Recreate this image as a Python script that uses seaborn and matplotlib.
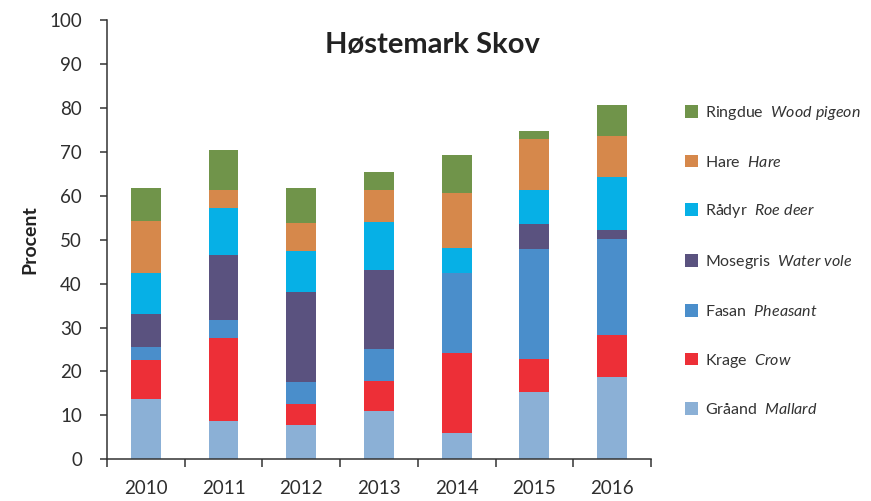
import numpy as np
import pandas as pd
import seaborn as sns
import matplotlib.pyplot as plt

# Data (procent af fund)
years = [2010, 2011, 2012, 2013, 2014, 2015, 2016]
navne_dk = ["Ringdue", "Hare", "Rådyr", "Mosegris", "Fasan", "Krage", "Gråand"]
navne_en = ["Wood pigeon", "Hare", "Roe deer", "Water vole", "Pheasant", "Crow", "Mallard"]

ringdue = [7.6, 8.9, 8.0, 4.1, 8.8, 2.0, 7.2]
hare = [11.8, 4.2, 6.4, 7.4, 12.3, 11.4, 9.3]
raadyr = [9.4, 10.6, 9.3, 11.0, 5.8, 7.8, 12.1]
mosegris = [7.5, 14.8, 20.6, 18.0, 0.0, 5.7, 2.0]
fasan = [2.9, 4.3, 5.0, 7.2, 18.2, 25.0, 21.7]
krage = [8.8, 18.8, 4.7, 6.8, 18.2, 7.6, 9.6]
graaand = [13.8, 8.7, 7.8, 11.0, 6.0, 15.3, 18.8]

farver = ["#70944a", "#d6884b", "#06b0e6", "#5a527f", "#4a8ecb", "#ed2f37", "#8bb0d6"]

sns.set_style("ticks")
plt.rcParams['font.family'] = ['Lato', 'DejaVu Sans']
plt.rcParams['mathtext.fontset'] = 'custom'
plt.rcParams['mathtext.rm'] = 'Lato'
plt.rcParams['mathtext.it'] = 'Lato:italic'

# labels med engelsk navn i kursiv
labels = [dk + "  $\\mathit{" + en.replace(" ", "\\ ") + "}$" for dk, en in zip(navne_dk, navne_en)]
serier = [ringdue, hare, raadyr, mosegris, fasan, krage, graaand]

rows = []
for lab, vals in zip(labels, serier):
    for y, v in zip(years, vals):
        rows.append({"year": y, "art": lab, "procent": v})
df = pd.DataFrame(rows)

fig = plt.figure(figsize=(8.71, 5.01), dpi=100)
ax = fig.add_axes([0.1228, 0.0832, 0.6246, 0.877])

sns.histplot(data=df, x="year", weights="procent", hue="art", hue_order=labels,
             palette=farver, multiple="stack", discrete=True, shrink=0.385,
             alpha=1, linewidth=0, ax=ax)

ax.set_xlim(2009.5, 2016.5)
ax.set_ylim(0, 100)
ax.set_yticks(np.arange(0, 101, 10))
ax.set_xticks(np.arange(2009.5, 2017, 1))
ax.set_xticklabels([])
ax.set_xticks(years, minor=True)
ax.set_xticklabels([str(y) for y in years], minor=True)
ax.tick_params(axis='x', which='major', direction='out', length=6, width=1.1, color='#333333')
ax.tick_params(axis='x', which='minor', length=0, pad=15, labelsize=13.5, labelcolor='#2e2e2e')
ax.tick_params(axis='y', direction='out', length=5, width=1.1, color='#333333',
               pad=13, labelsize=13.5, labelcolor='#2e2e2e')

for s in ['top', 'right']:
    ax.spines[s].set_visible(False)
for s in ['left', 'bottom']:
    ax.spines[s].set_linewidth(1.1)
    ax.spines[s].set_color('#333333')

ax.set_xlabel("")
ax.set_ylabel("Procent", fontsize=14, fontweight='bold', labelpad=8, color='#222222')
ax.text(0.599, 0.943, "Høstemark Skov", transform=ax.transAxes, ha='center', va='center',
        fontsize=21, fontweight='bold', color='#222222')

sns.move_legend(ax, "center left", bbox_to_anchor=(0.777, 0.48), bbox_transform=fig.transFigure,
                frameon=False, title=None, labelspacing=2.05, handlelength=0.85, handleheight=0.85,
                handletextpad=0.4, fontsize=11.5, borderpad=0)
for t in ax.get_legend().get_texts():
    t.set_color('#333333')

fig.savefig("out.png", dpi=100)
